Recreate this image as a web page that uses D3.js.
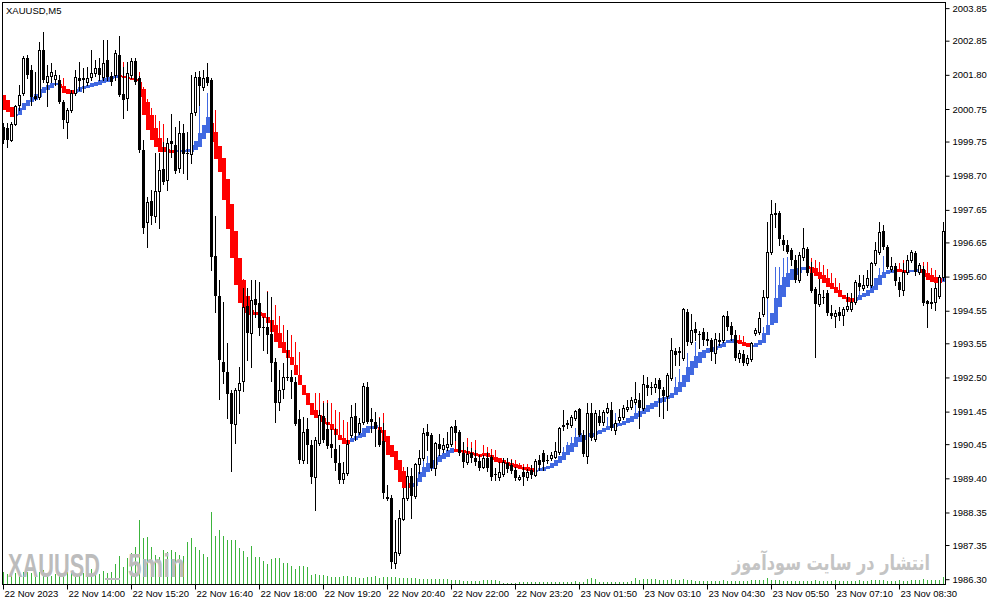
<!DOCTYPE html>
<html>
<head>
<meta charset="utf-8">
<script src="https://cdn.jsdelivr.net/npm/d3@7"></script>
<style>
  html, body { margin: 0; padding: 0; background: #fff; }
  svg { display: block; }
  .axis text { font-family: "Liberation Sans", Arial, sans-serif; font-size: 9.5px; fill: #000; }
  .axis line { stroke: #000; }
</style>
</head>
<body>
<svg id="chart" width="991" height="605"></svg>
<script>
// XAUUSD M5, 22-23 Nov 2023 : one row per bar [open, high, low, close]
const ohlc = [
[2000.20,2000.32,1999.71,1999.80],[2000.17,2000.32,1999.58,1999.80],[1999.80,2000.35,1999.77,2000.29],[2000.29,2000.87,2000.26,2000.84],[2000.87,2001.49,2000.72,2001.18],
[2001.24,2002.38,2001.18,2002.32],[2002.32,2002.41,2001.70,2001.80],[2001.95,2002.10,2000.87,2001.12],[2001.15,2001.89,2001.03,2001.06],[2001.12,2002.81,2001.06,2002.56],
[2002.56,2003.12,2001.58,2001.64],[2001.58,2002.10,2000.84,2001.77],[2001.77,2002.16,2001.58,2001.89],[2001.67,2001.95,2001.49,2001.80],[2001.64,2001.80,2000.93,2000.96],
[2000.96,2001.03,2000.17,2000.41],[2000.35,2000.78,1999.86,2000.72],[2000.72,2001.33,2000.66,2001.24],[2001.24,2001.95,2001.18,2001.73],[2001.70,2002.20,2001.33,2001.61],
[2001.70,2002.01,2001.27,2001.64],[2001.58,2002.04,2001.49,2001.70],[2001.73,2002.56,2001.64,2001.86],[2001.86,2002.26,2001.77,2002.01],[2002.01,2002.32,2001.64,2001.80],
[2001.73,2002.87,2001.64,2002.16],[2002.26,2002.87,2001.64,2001.73],[2001.77,2001.89,2001.49,2001.58],[2001.80,2002.56,2001.64,2002.47],[2002.41,2002.99,2001.15,2001.18],
[2001.21,2002.04,2000.47,2001.03],[2001.09,2002.20,2000.72,2001.86],[2001.80,2002.32,2001.70,2002.23],[2002.23,2002.32,2001.52,2001.58],[2001.70,2001.77,1999.43,1999.49],
[1999.49,1999.80,1996.94,1997.09],[1997.28,1998.05,1996.51,1997.89],[1997.92,1998.26,1997.22,1997.46],[1997.46,1999.40,1997.28,1998.23],[1998.23,1999.40,1997.09,1998.88],
[1998.91,1999.74,1998.45,1998.51],[1998.57,1999.86,1998.26,1999.71],[1999.77,2000.60,1999.28,1999.68],[1999.64,2000.20,1998.78,1998.85],[1998.94,2000.38,1998.81,2000.01],
[2000.01,2000.29,1998.78,1999.37],[1999.40,2000.04,1998.60,1999.37],[1999.37,2001.80,1999.09,2000.63],[2000.66,2001.89,2000.57,2001.73],[2001.73,2001.92,2000.87,2001.46],
[2001.43,2001.95,2001.33,2001.70],[2001.73,2002.16,2001.49,2001.55],[2001.64,2001.70,1995.80,1996.20],[1996.23,1997.46,1994.51,1995.00],[1995.00,1995.50,1991.84,1993.04],
[1992.98,1994.82,1992.33,1992.67],[1992.67,1993.56,1991.25,1991.99],[1992.02,1992.12,1989.63,1991.07],[1991.07,1992.18,1990.49,1992.12],[1992.12,1992.82,1991.41,1992.33],
[1992.39,1995.25,1992.08,1994.67],[1994.70,1995.25,1993.04,1993.87],[1993.87,1995.50,1992.82,1994.88],[1994.91,1995.50,1994.36,1994.73],[1994.79,1995.44,1993.80,1994.02],
[1994.05,1994.36,1993.34,1994.02],[1994.05,1995.13,1993.25,1993.80],[1993.84,1994.97,1992.39,1992.95],[1992.98,1993.10,1991.13,1991.72],[1991.75,1992.73,1991.50,1992.12],
[1992.15,1992.95,1991.87,1992.52],[1992.52,1993.96,1992.42,1992.48],[1992.52,1992.73,1991.87,1992.36],[1992.36,1992.52,1991.04,1991.07],[1991.22,1991.50,1989.87,1989.96],
[1989.96,1991.28,1989.87,1990.82],[1990.91,1991.25,1989.87,1990.42],[1990.42,1990.58,1989.26,1989.44],[1989.44,1990.67,1988.43,1990.58],[1990.49,1991.50,1990.42,1991.35],
[1991.32,1991.72,1990.52,1990.58],[1990.91,1991.72,1990.33,1990.39],[1990.46,1990.92,1990.06,1990.33],[1990.30,1990.95,1989.66,1989.87],[1989.87,1990.42,1989.26,1989.35],
[1989.38,1989.90,1989.26,1989.56],[1989.56,1990.58,1989.50,1990.46],[1990.73,1991.65,1990.67,1991.28],[1991.32,1991.72,1990.58,1990.79],[1990.82,1991.25,1990.76,1991.10],
[1991.13,1992.33,1991.07,1992.24],[1992.21,1992.36,1991.10,1991.13],[1991.22,1991.56,1990.82,1991.13],[1991.13,1991.44,1990.39,1990.91],[1990.89,1991.25,1990.39,1990.42],
[1990.55,1991.10,1988.80,1988.95],[1988.83,1989.20,1988.74,1988.77],[1988.80,1988.89,1986.64,1986.83],[1986.80,1988.12,1986.64,1987.14],[1987.11,1988.43,1987.04,1988.18],
[1988.15,1989.10,1988.12,1988.80],[1988.80,1989.75,1988.74,1989.47],[1989.47,1989.72,1988.18,1988.86],[1988.86,1989.87,1988.80,1989.84],[1989.84,1990.27,1989.56,1990.02],
[1990.02,1990.95,1989.96,1990.79],[1990.82,1991.07,1990.27,1990.70],[1990.73,1990.79,1989.66,1989.72],[1989.72,1990.52,1989.50,1990.49],[1990.46,1990.76,1990.12,1990.30],
[1990.30,1990.64,1990.21,1990.42],[1990.36,1990.82,1990.27,1990.46],[1990.46,1991.01,1990.39,1990.98],[1991.01,1991.19,1990.58,1990.79],[1990.82,1990.89,1990.12,1990.18],
[1990.18,1990.52,1989.75,1989.90],[1989.90,1990.36,1989.84,1990.15],[1990.18,1990.33,1989.90,1990.02],[1990.02,1990.27,1989.81,1989.90],[1989.93,1990.12,1989.66,1989.72],
[1989.75,1990.12,1989.72,1990.02],[1990.02,1990.21,1989.63,1989.72],[1990.06,1990.12,1989.35,1989.44],[1989.53,1989.72,1989.35,1989.50],[1989.44,1989.90,1989.35,1989.59],
[1989.53,1990.02,1989.47,1989.90],[1989.87,1990.02,1989.59,1989.69],[1989.81,1989.96,1989.56,1989.63],[1989.66,1989.75,1989.35,1989.41],[1989.38,1989.50,1989.35,1989.44],
[1989.59,1989.75,1989.20,1989.44],[1989.44,1989.69,1989.35,1989.59],[1989.66,1989.81,1989.41,1989.50],[1989.50,1989.99,1989.47,1989.93],[1989.96,1990.12,1989.66,1989.81],
[1990.18,1990.27,1989.66,1989.90],[1989.96,1990.12,1989.87,1989.93],[1990.02,1990.21,1989.96,1990.12],[1990.06,1990.52,1990.02,1990.24],[1990.21,1990.98,1990.15,1990.95],
[1991.04,1991.50,1990.89,1990.98],[1991.10,1991.19,1990.95,1991.04],[1991.04,1991.35,1990.98,1991.28],[1991.25,1991.50,1991.19,1991.47],[1991.53,1991.56,1990.70,1990.73],
[1990.73,1990.89,1990.08,1990.15],[1990.08,1991.72,1989.87,1991.41],[1991.41,1991.72,1990.58,1990.64],[1990.61,1991.50,1990.55,1991.41],[1991.32,1991.50,1991.04,1991.10],
[1991.13,1991.50,1991.04,1991.44],[1991.44,1991.72,1991.41,1991.56],[1991.50,1991.75,1990.89,1990.95],[1990.89,1991.19,1990.76,1991.10],[1991.19,1991.53,1991.13,1991.28],
[1991.28,1991.65,1991.22,1991.56],[1991.53,1991.81,1991.47,1991.59],[1991.59,1991.90,1991.53,1991.81],[1991.75,1992.36,1991.68,1991.84],[1991.81,1992.02,1990.95,1991.56],
[1991.56,1992.58,1991.50,1992.30],[1992.27,1992.52,1991.96,1992.18],[1992.21,1992.36,1991.99,1992.18],[1992.21,1992.48,1992.05,1992.30],[1992.42,1992.48,1991.32,1992.15],
[1992.12,1992.21,1991.25,1991.93],[1991.93,1992.64,1991.50,1992.58],[1992.48,1993.71,1992.42,1993.34],[1993.31,1993.41,1992.88,1993.19],[1993.31,1993.44,1992.88,1993.25],
[1993.10,1994.63,1993.04,1994.60],[1994.51,1994.60,1993.50,1993.59],[1993.59,1994.45,1993.53,1993.96],[1993.99,1994.20,1993.65,1993.87],[1993.84,1993.93,1993.41,1993.80],
[1993.90,1994.02,1993.50,1993.65],[1993.68,1993.90,1993.50,1993.62],[1993.65,1993.71,1993.04,1993.28],[1993.25,1993.87,1992.95,1993.68],[1993.62,1993.87,1993.50,1993.65],
[1993.65,1994.42,1993.59,1994.39],[1994.39,1994.54,1993.96,1994.05],[1994.08,1994.20,1993.65,1993.80],[1993.80,1993.96,1993.04,1993.10],[1993.10,1993.34,1992.98,1993.25],
[1993.22,1993.34,1992.88,1992.95],[1992.95,1993.19,1992.88,1993.10],[1993.07,1993.59,1993.01,1993.56],[1993.87,1994.02,1993.80,1993.96],[1993.90,1994.51,1993.84,1994.33],
[1994.45,1995.19,1994.39,1994.97],[1994.97,1997.28,1994.94,1996.36],[1996.36,1997.95,1996.29,1997.52],[1997.55,1997.86,1997.12,1997.49],[1997.55,1997.62,1996.57,1996.76],
[1996.72,1996.88,1996.42,1996.57],[1996.57,1996.72,1996.33,1996.36],[1996.42,1996.48,1995.96,1996.11],[1996.11,1996.26,1995.43,1995.50],[1995.50,1996.36,1995.43,1996.26],
[1996.20,1997.09,1996.11,1996.48],[1996.45,1996.51,1995.65,1995.71],[1995.71,1996.05,1995.13,1995.16],[1995.22,1995.28,1993.13,1994.76],[1994.76,1995.53,1994.70,1995.06],
[1994.97,1995.19,1994.79,1994.94],[1995.10,1995.19,1994.42,1994.48],[1994.48,1994.73,1994.33,1994.39],[1994.39,1994.57,1994.05,1994.48],[1994.51,1994.67,1994.27,1994.39],
[1994.42,1994.67,1994.11,1994.60],[1994.60,1995.10,1994.54,1994.70],[1994.60,1995.10,1994.54,1994.82],[1994.82,1995.50,1994.76,1995.44],[1995.40,1995.65,1995.19,1995.28],
[1995.25,1995.65,1995.19,1995.34],[1995.34,1995.80,1995.28,1995.56],[1995.34,1996.05,1995.28,1996.02],[1996.02,1996.66,1995.96,1996.42],[1996.36,1997.28,1996.29,1996.97],
[1997.00,1997.19,1996.45,1996.51],[1996.51,1996.57,1995.87,1995.90],[1995.83,1996.20,1995.77,1995.93],[1995.93,1996.02,1995.34,1995.47],[1995.44,1995.59,1995.00,1995.19],
[1995.19,1996.02,1995.03,1995.74],[1995.74,1996.26,1995.68,1996.11],[1996.11,1996.42,1996.05,1996.36],[1996.33,1996.39,1995.65,1995.74],[1995.74,1996.02,1995.68,1995.96],
[1995.83,1995.93,1994.73,1994.79],[1994.85,1994.88,1994.05,1994.76],[1994.79,1995.25,1994.63,1994.82],[1994.82,1995.40,1994.57,1995.25],[1995.00,1995.65,1994.94,1995.59],
[1995.59,1997.28,1995.50,1997.00]
];

// Heiken Ashi smoothed: [haOpen, haClose, haHigh (only where a wick shows)]
const ha = [
[2001.18,2000.72],[2001.03,2000.66],[2000.81,2000.50],[2000.57,2000.60],[2000.57,2000.78,2001.03],
[2000.72,2000.93],[2000.84,2001.03],[2000.96,2001.12],[2001.03,2001.21],[2001.12,2001.36],
[2001.24,2001.43],[2001.33,2001.49,2002.01],[2001.40,2001.55],[2001.49,2001.55,2001.86],[2001.52,2001.40,2001.73],
[2001.46,2001.24,2001.70],[2001.36,2001.21],[2001.33,2001.21],[2001.24,2001.36],[2001.27,2001.43],
[2001.36,2001.46],[2001.40,2001.49],[2001.43,2001.55],[2001.46,2001.58],[2001.49,2001.64],
[2001.55,2001.70],[2001.58,2001.73],[2001.67,2001.77],[2001.70,2001.80],[2001.80,2001.73,2002.26],
[2001.77,2001.70,2002.20],[2001.73,2001.67],[2001.70,2001.64],[2001.67,2001.61,2002.01],[2001.58,2001.12,2001.89],
[2001.36,2000.57,2001.43],[2000.96,2000.11,2001.06],[2000.57,1999.80,2000.78],[2000.17,1999.58,2000.57],[1999.86,1999.43,2000.38],
[1999.58,1999.43,2000.29],[1999.52,1999.40],[1999.49,1999.40],[1999.43,1999.49],[1999.43,1999.49,2000.29],
[1999.43,1999.49],[1999.43,1999.52],[1999.43,1999.64,2000.20],[1999.49,1999.77],[1999.58,2000.01,2000.87],
[1999.83,2000.26],[2000.01,2000.50,2001.24],[2000.32,1999.74,2001.03],[2000.03,1999.20,2000.72],[1999.60,1998.81],
[1999.24,1997.95],[1998.60,1997.06],[1997.83,1996.17],[1997.00,1995.34],[1996.17,1994.79],
[1995.50,1994.48,1995.53],[1995.00,1994.42],[1994.57,1994.42,1995.44],[1994.51,1994.42,1995.47],[1994.51,1994.39,1995.34],
[1994.48,1994.33],[1994.36,1994.17,1995.16],[1994.27,1993.90,1994.97],[1994.11,1993.59,1994.73],[1993.87,1993.41,1994.39],
[1993.59,1993.25,1994.11],[1993.34,1993.10,1993.96],[1993.13,1992.88,1993.80],[1992.88,1992.58,1993.59],[1992.58,1992.27,1993.28],
[1992.27,1991.96],[1992.02,1991.65],[1991.72,1991.35],[1991.50,1991.25,1992.02],[1991.35,1991.13,1992.02],
[1991.25,1991.07,1991.78],[1991.13,1991.04,1991.81],[1991.07,1990.89,1991.72],[1990.92,1990.73,1991.50],[1990.73,1990.58,1991.44],
[1990.64,1990.46,1991.19],[1990.58,1990.46,1991.13],[1990.52,1990.64],[1990.58,1990.70],[1990.64,1990.79,1991.25],
[1990.67,1990.95],[1990.79,1991.01],[1990.92,1991.01,1991.56],[1990.95,1991.04],[1990.98,1990.79,1991.28],
[1990.89,1990.52,1991.41],[1990.70,1990.12],[1990.42,1990.06],[1990.24,1989.66],[1989.96,1989.29],
[1989.63,1989.10,1989.75],[1989.26,1989.10,1989.66],[1989.13,1989.26],[1989.16,1989.41],[1989.29,1989.59],
[1989.44,1989.75,1989.93],[1989.59,1989.87,1990.08],[1989.69,1989.96],[1989.81,1990.06],[1989.90,1990.12,1990.46],
[1989.99,1990.18],[1990.06,1990.27],[1990.18,1990.33],[1990.30,1990.21,1990.64],[1990.27,1990.21],
[1990.27,1990.18,1990.52],[1990.24,1990.15,1990.64],[1990.21,1990.12,1990.52],[1990.18,1990.08,1990.58],[1990.15,1990.06],
[1990.18,1990.08,1990.42],[1990.18,1990.06,1990.36],[1990.12,1989.96,1990.30],[1990.06,1989.90,1990.27],[1990.02,1989.87],
[1989.96,1989.84],[1989.90,1989.78,1990.02],[1989.87,1989.75,1989.99],[1989.84,1989.72,1989.96],[1989.81,1989.69,1989.87],
[1989.75,1989.66,1989.84],[1989.75,1989.63,1989.84],[1989.72,1989.59],[1989.59,1989.66],[1989.63,1989.72],
[1989.63,1989.75],[1989.69,1989.78],[1989.72,1989.87],[1989.78,1989.96],[1989.87,1990.08],
[1989.96,1990.21,1990.36],[1990.12,1990.42,1990.52],[1990.21,1990.49,1990.67],[1990.36,1990.67,1990.95],[1990.52,1990.79],
[1990.58,1990.73],[1990.67,1990.79],[1990.67,1990.79],[1990.73,1990.86],[1990.76,1990.89],
[1990.82,1990.95],[1990.89,1991.01,1991.28],[1990.95,1991.07],[1990.98,1991.10,1991.41],[1991.01,1991.10],
[1991.04,1991.16],[1991.10,1991.25],[1991.13,1991.32],[1991.22,1991.41,1991.65],[1991.28,1991.47,1991.84],
[1991.38,1991.56],[1991.44,1991.65],[1991.53,1991.72],[1991.59,1991.78],[1991.72,1991.87],
[1991.75,1991.90,1992.21],[1991.84,1991.96],[1991.87,1992.02],[1991.96,1992.21,1992.52],[1992.05,1992.36,1992.76],
[1992.21,1992.58],[1992.36,1992.82,1993.25],[1992.58,1993.01],[1992.79,1993.16,1993.59],[1992.95,1993.28],
[1993.10,1993.34],[1993.25,1993.41],[1993.28,1993.44],[1993.34,1993.47],[1993.41,1993.53],
[1993.44,1993.59],[1993.56,1993.65],[1993.56,1993.68,1994.02],[1993.65,1993.56,1993.80],[1993.65,1993.53,1993.80],
[1993.59,1993.47,1993.77],[1993.56,1993.44],[1993.44,1993.50],[1993.44,1993.56],[1993.50,1993.65],
[1993.56,1993.87,1994.05],[1993.80,1994.11,1994.97],[1994.11,1994.48],[1994.17,1994.94,1995.90],[1994.67,1995.34,1995.90],
[1994.97,1995.59,1996.17],[1995.28,1995.71,1996.20],[1995.50,1995.83],[1995.65,1995.87],[1995.71,1995.90],
[1995.80,1995.90],[1995.93,1995.83],[1995.90,1995.71,1996.17],[1995.87,1995.62,1996.11],[1995.74,1995.53,1996.05],
[1995.65,1995.40,1995.96],[1995.56,1995.28,1995.83],[1995.40,1995.22,1995.71],[1995.28,1995.10,1995.56],[1995.19,1994.97,1995.40],
[1995.03,1994.91],[1994.97,1994.82],[1994.94,1994.82],[1994.85,1994.97],[1994.88,1995.03,1995.19],
[1994.97,1995.10],[1995.00,1995.19],[1995.10,1995.31],[1995.19,1995.56],[1995.34,1995.65,1995.87],
[1995.56,1995.74,1996.23],[1995.68,1995.80],[1995.71,1995.80],[1995.83,1995.74],[1995.83,1995.74,1996.02],
[1995.80,1995.71,1996.11],[1995.71,1995.80],[1995.74,1995.80],[1995.74,1995.83],[1995.83,1995.71],
[1995.80,1995.59,1996.05],[1995.71,1995.50,1996.05],[1995.65,1995.44,1995.87],[1995.59,1995.40,1995.80],[1995.56,1995.40],
[1995.44,1995.56]
];

// tick volume per bar
const volume = [
300,250,275,275,275,300,300,275,250,300, 350,275,200,250,250,275,300,275,275,275,
275,275,375,275,250,325,275,300,500,700, 425,650,775,925,1600,1150,1175,925,725,675,
850,800,850,800,725,700,1050,1150,925,850, 750,675,1800,1200,1350,1200,1100,1100,1100,900,
825,675,950,675,675,575,500,625,650,650, 525,525,450,375,450,450,425,225,250,225,
225,200,175,175,175,200,200,175,175,150, 150,175,175,200,150,175,175,175,175,150,
150,150,150,150,125,125,125,125,125,125, 125,125,100,100,100,75,75,75,75,75,
100,100,100,100,75,25,25,25,25,50, 50,50,50,50,50,50,50,50,50,50,
50,50,50,75,50,50,125,150,125,50, 50,50,50,50,50,50,50,75,150,100,
125,125,125,125,100,100,100,125,100,100, 125,100,100,75,75,75,75,75,75,75,
100,75,75,75,75,75,75,100,100,100, 100,150,100,100,100,75,75,75,75,75,
75,75,75,100,75,75,75,75,100,75, 75,75,75,75,100,75,75,100,100,100,
100,75,75,75,100,75,75,100,100,100, 125,100,100,100,100,175
];

const timeBars = [0, 16, 32, 48, 64, 80, 96, 112, 128, 144, 160, 176, 192, 208, 224];
const timeLabels = ["22 Nov 2023", "22 Nov 14:00", "22 Nov 15:20", "22 Nov 16:40", "22 Nov 18:00",
  "22 Nov 19:20", "22 Nov 20:40", "22 Nov 22:00", "22 Nov 23:20", "23 Nov 01:50",
  "23 Nov 03:10", "23 Nov 04:30", "23 Nov 05:50", "23 Nov 07:10", "23 Nov 08:30"];
const priceTicks = [2003.85, 2002.85, 2001.80, 2000.75, 1999.75, 1998.70, 1997.65, 1996.65, 1995.60,
  1994.55, 1993.55, 1992.50, 1991.45, 1990.45, 1989.40, 1988.35, 1987.35, 1986.30];

const svg = d3.select("#chart");

// scales
const x = d3.scaleLinear().domain([0, ohlc.length - 1]).range([3.5, 943.5]);
const y = d3.scaleLinear().domain([1986.10, 2004.10]).range([585.7, 0]);
const yVol = d3.scaleLinear().domain([0, 1800]).range([584, 512]);
const py = v => Math.round(y(v));

svg.append("clipPath").attr("id", "plot")
  .append("rect").attr("x", 3).attr("y", 3).attr("width", 942).attr("height", 581);

const plot = svg.append("g").attr("clip-path", "url(#plot)");

// volume bars
plot.append("g").selectAll("line")
  .data(volume)
  .enter()
  .append("line")
  .attr("x1", (d, i) => x(i))
  .attr("x2", (d, i) => x(i))
  .attr("y1", yVol(0))
  .attr("y2", d => Math.round(yVol(d)))
  .attr("stroke", "#3cb43c");

// watermarks: squeezed horizontally to the condensed look of the original
const wm = plot.append("g")
  .style("font-family", "'Liberation Sans', Arial, sans-serif")
  .style("font-weight", "bold")
  .attr("fill", "#bcbcbc");
function squeezed(str, left, width, baseline, size) {
  const t = wm.append("text").attr("x", 0).attr("y", 0).style("font-size", size + "px").text(str);
  const w = t.node().getComputedTextLength();
  t.attr("transform", `translate(${left},${baseline}) scale(${width / w},1)`);
}
squeezed("XAUUSD", 8, 92, 577, 34);
squeezed("5min", 128, 57, 577, 34);
wm.append("line").attr("x1", 105).attr("x2", 120).attr("y1", 579).attr("y2", 579)
  .attr("stroke", "#bcbcbc").attr("stroke-width", 2);

plot.append("text")
  .attr("x", 831).attr("y", 570)
  .attr("text-anchor", "middle")
  .attr("textLength", 198).attr("lengthAdjust", "spacingAndGlyphs")
  .style("font-family", "'DejaVu Sans', sans-serif")
  .style("font-weight", "bold")
  .style("font-size", "21px")
  .attr("fill", "#c4c4c4")
  .text("انتشار در سایت سودآموز");

// Heiken Ashi smoothed band
const haColor = d => d[1] >= d[0] ? "#4169e1" : "#ff0000";
const haG = plot.append("g");
haG.selectAll("line")
  .data(ha.map((d, i) => ({d, i})).filter(o => o.d.length > 2))
  .enter()
  .append("line")
  .attr("x1", o => x(o.i))
  .attr("x2", o => x(o.i))
  .attr("y1", o => py(o.d[2]))
  .attr("y2", o => py(Math.max(o.d[0], o.d[1])))
  .attr("stroke", o => haColor(o.d));
haG.selectAll("rect")
  .data(ha)
  .enter()
  .append("rect")
  .attr("x", (d, i) => x(i) - 1.5)
  .attr("width", 4)
  .attr("y", d => py(Math.max(d[0], d[1])))
  .attr("height", d => Math.max(2, py(Math.min(d[0], d[1])) - py(Math.max(d[0], d[1]))))
  .attr("fill", haColor);

// candles
const cG = plot.append("g");
cG.selectAll("line")
  .data(ohlc)
  .enter()
  .append("line")
  .attr("x1", (d, i) => x(i))
  .attr("x2", (d, i) => x(i))
  .attr("y1", d => py(d[1]))
  .attr("y2", d => py(d[2]) + 1)
  .attr("stroke", "#000");

const bull = ohlc.map((d, i) => ({d, i})).filter(o => o.d[3] > o.d[0]);
const bear = ohlc.map((d, i) => ({d, i})).filter(o => o.d[3] <= o.d[0]);

cG.selectAll("rect.bull")
  .data(bull)
  .enter()
  .append("rect")
  .attr("class", "bull")
  .attr("x", o => x(o.i) - 1)
  .attr("width", 2)
  .attr("y", o => py(o.d[3]) + 0.5)
  .attr("height", o => Math.max(0, py(o.d[0]) - py(o.d[3])))
  .attr("fill", "#fff")
  .attr("stroke", "#000");

cG.selectAll("rect.bear")
  .data(bear)
  .enter()
  .append("rect")
  .attr("class", "bear")
  .attr("x", o => x(o.i) - 1.5)
  .attr("width", 3)
  .attr("y", o => py(o.d[0]))
  .attr("height", o => Math.max(1, py(o.d[3]) - py(o.d[0])))
  .attr("fill", "#000");

// frame
svg.append("rect")
  .attr("x", 2.5).attr("y", 2.5).attr("width", 943).attr("height", 582)
  .attr("fill", "none").attr("stroke", "#000");

// price axis
svg.append("g")
  .attr("class", "axis")
  .attr("transform", "translate(945.5,0)")
  .call(d3.axisRight(y).tickValues(priceTicks).tickFormat(d3.format(".2f")).tickSize(4).tickPadding(3))
  .call(g => g.select(".domain").remove());

// time axis
svg.append("g")
  .attr("class", "axis")
  .attr("transform", "translate(0,584.5)")
  .call(d3.axisBottom(x).tickValues(timeBars).tickFormat((d, i) => timeLabels[i]).tickSize(5).offset(0))
  .call(g => g.select(".domain").remove())
  .call(g => g.selectAll("text").attr("text-anchor", "start").attr("x", 1).attr("y", 12.5).attr("dy", 0));

// symbol caption
svg.append("text")
  .attr("x", 6).attr("y", 14)
  .style("font-family", "'Liberation Sans', Arial, sans-serif")
  .style("font-size", "9.5px")
  .attr("fill", "#000")
  .text("XAUUSD,M5");
</script>
</body>
</html>
